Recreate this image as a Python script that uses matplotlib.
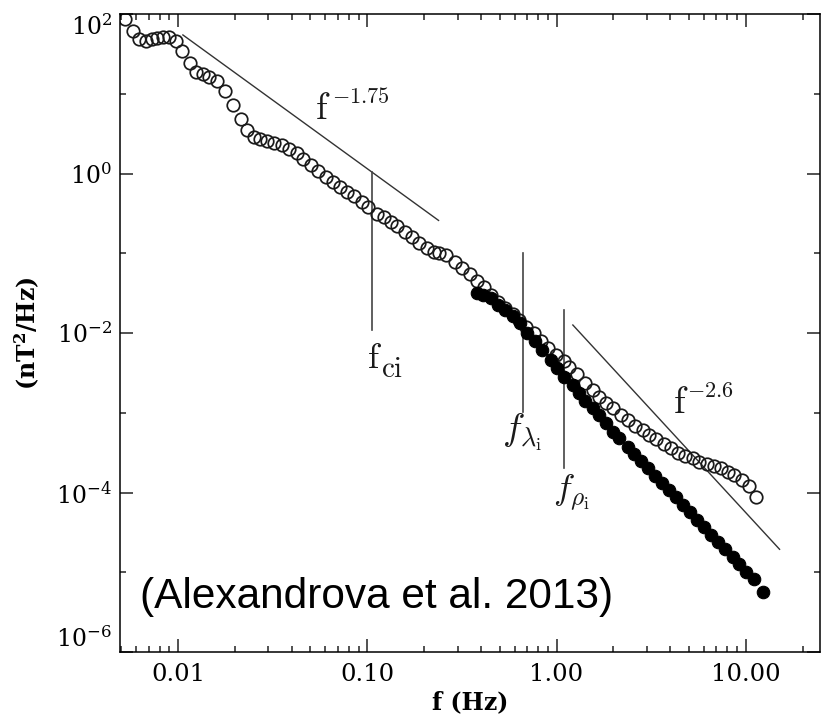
import matplotlib
matplotlib.use("Agg")
import matplotlib.pyplot as plt
from matplotlib.ticker import FixedLocator, FixedFormatter, LogLocator, NullFormatter

# Magnetic spectrum, open circles
open_freq = [
    0.00524, 0.00578, 0.00622, 0.00677, 0.00729, 0.00774, 0.00833, 0.00896, 0.00976, 0.0105,
    0.0116, 0.0125, 0.0136, 0.0146, 0.0161, 0.0177, 0.0195, 0.0215, 0.0232, 0.0252,
    0.0272, 0.0296, 0.0322, 0.0355, 0.0387, 0.0426, 0.0459, 0.0505, 0.0551, 0.0607,
    0.0661, 0.0720, 0.0784, 0.0854, 0.0941, 0.101, 0.112, 0.122, 0.134, 0.144,
    0.159, 0.173, 0.188, 0.208, 0.224, 0.240, 0.262,
    0.289, 0.318, 0.347, 0.382, 0.416, 0.453, 0.493, 0.537, 0.592, 0.637,
    0.694, 0.756, 0.833, 0.907, 0.988, 1.09, 1.17, 1.29,
    1.42, 1.55, 1.67, 1.82, 2.00, 2.18, 2.38, 2.59, 2.85, 3.07,
    3.34, 3.68, 4.01, 4.37, 4.76, 5.24, 5.64, 6.22, 6.77, 7.37,
    8.03, 8.64, 9.52, 10.4, 11.3,
]
open_psd = [
    86.6, 61.3, 48.7, 46.0, 48.7, 50.1, 51.6, 51.6, 46.0, 34.5,
    24.4, 18.8, 17.8, 16.3, 14.5, 10.9, 7.29, 4.87, 3.55, 2.90,
    2.74, 2.58, 2.44, 2.30, 2.05, 1.83, 1.54, 1.26, 1.09, 0.917,
    0.772, 0.668, 0.579, 0.516, 0.434, 0.376, 0.307, 0.282, 0.244, 0.218,
    0.183, 0.158, 0.133, 0.115, 0.103, 0.100, 0.0944,
    0.0772, 0.0649, 0.0546, 0.0447, 0.0376, 0.0299, 0.0244, 0.0205, 0.0173, 0.0145,
    0.0119, 0.0100, 0.00794, 0.00649, 0.00531, 0.00447, 0.00376, 0.00307,
    0.00237, 0.00194, 0.00158, 0.00133, 0.00115, 0.000944, 0.000818, 0.000688, 0.000613, 0.000531,
    0.000473, 0.000410, 0.000365, 0.000316, 0.000290, 0.000274, 0.000244, 0.000230, 0.000218, 0.000205,
    0.000183, 0.000168, 0.000145, 0.000122, 0.0000866,
]

# Filled circles
fill_freq = [
    0.382, 0.411, 0.448, 0.493, 0.537, 0.592, 0.645, 0.702, 0.774, 0.843,
    0.930, 1.01, 1.10, 1.22, 1.31, 1.42, 1.55, 1.67, 1.82, 2.00,
    2.15, 2.38, 2.56, 2.78, 3.03, 3.30, 3.59, 3.91, 4.26, 4.64,
    5.05, 5.50, 6.00, 6.53, 7.11, 7.74, 8.54, 9.18, 10.0, 11.0,
    12.4,
]
fill_psd = [
    0.0316, 0.0299, 0.0274, 0.0224, 0.0194, 0.0163, 0.0133, 0.0100, 0.00794, 0.00613,
    0.00460, 0.00365, 0.00282, 0.00224, 0.00178, 0.00141, 0.00115, 0.000944, 0.000750, 0.000579,
    0.000487, 0.000376, 0.000307, 0.000251, 0.000205, 0.000163, 0.000133, 0.000106, 0.0000866, 0.0000688,
    0.0000562, 0.0000447, 0.0000365, 0.0000290, 0.0000237, 0.0000194, 0.0000154, 0.0000126, 0.0000100, 0.00000818,
    0.00000562,
]

# Power-law guides
inertial_freq = [0.0106, 0.238]
inertial_psd = [54.6, 0.258]
kinetic_freq = [1.22, 15.1]
kinetic_psd = [0.0126, 1.94e-5]

# Characteristic frequencies (vertical markers) and their extent
f_ci, f_ci_span = 0.106, [0.0109, 1.03]
f_lam, f_lam_span = 0.669, [0.00103, 0.100]
f_rho, f_rho_span = 1.09, [0.000205, 0.0194]

xticks = [0.01, 0.1, 1.0, 10.0]
xticklabels = ["0.01", "0.10", "1.00", "10.00"]
yticks = [1e-6, 1e-4, 1e-2, 1e0, 1e2]
yticklabels = [r"$\mathregular{10^{-6}}$", r"$\mathregular{10^{-4}}$",
               r"$\mathregular{10^{-2}}$", r"$\mathregular{10^{0}}$",
               r"$\mathregular{10^{2}}$"]
yminor = [1e-5, 1e-3, 1e-1, 1e1]

plt.rcParams.update({
    "font.family": "DejaVu Serif",
    "mathtext.fontset": "cm",
    "axes.linewidth": 1.1,
})

fig = plt.figure(figsize=(8.22, 7.22), dpi=100)
ax = fig.add_axes([120 / 822, 70 / 722, 700 / 822, 638 / 722])
ax.set_xscale("log")
ax.set_yscale("log")
ax.set_xlim(0.00493, 24.7)
ax.set_ylim(1e-6, 1e2)

ink = "#1a1a1a"
ax.plot(inertial_freq, inertial_psd, color="#333333", lw=1.0)
ax.plot(kinetic_freq, kinetic_psd, color="#333333", lw=1.0)
for fx, span in [(f_ci, f_ci_span), (f_lam, f_lam_span), (f_rho, f_rho_span)]:
    ax.plot([fx, fx], span, color="#444444", lw=1.2)

ax.plot(open_freq, open_psd, ls="none", marker="o", ms=9.0, mfc="none",
        mec=ink, mew=1.25)
ax.plot(fill_freq, fill_psd, ls="none", marker="o", ms=9.0, mfc="black",
        mec="black", mew=0.8)

# Labels: base letter and raised/lowered part drawn separately
def split_label(x, y, base, part, size, part_size, dx, dy):
    ax.text(x, y, base, fontsize=size, ha="left", va="baseline", color=ink)
    ax.annotate(part, xy=(x, y), xytext=(dx, dy), textcoords="offset points",
                fontsize=part_size, ha="left", va="baseline", color=ink)

split_label(0.0531, 4.87, r"$\mathrm{f}$", r"$-1.75$", 27, 16, 12, 11)
split_label(4.11, 1.0e-3, r"$\mathrm{f}$", r"$-2.6$", 27, 16, 10.5, 11)
split_label(0.100, 0.00365, r"$\mathrm{f}$", r"$\mathrm{ci}$", 26, 21, 10, -6.5)
ax.text(0.518, 4.47e-4, r"$f_{\lambda_\mathrm{i}}$", fontsize=27, ha="left",
        va="baseline", color=ink)
ax.text(0.953, 8.18e-5, r"$f_{\rho_\mathrm{i}}$", fontsize=26, ha="left",
        va="baseline", color=ink)

ax.text(0.029, 0.069, "(Alexandrova et al. 2013)", transform=ax.transAxes,
        fontsize=30.5, family="Liberation Sans", ha="left", va="baseline")

ax.xaxis.set_major_locator(FixedLocator(xticks))
ax.xaxis.set_major_formatter(FixedFormatter(xticklabels))
ax.xaxis.set_minor_locator(LogLocator(base=10, subs=range(2, 10), numticks=20))
ax.xaxis.set_minor_formatter(NullFormatter())
ax.yaxis.set_major_locator(FixedLocator(yticks))
ax.yaxis.set_major_formatter(FixedFormatter(yticklabels))
ax.yaxis.set_minor_locator(FixedLocator(yminor))
ax.yaxis.set_minor_formatter(NullFormatter())

ax.tick_params(which="both", direction="in", top=True, right=True, width=1.1,
               color="#222222")
ax.tick_params(which="major", length=9.5)
ax.tick_params(which="minor", length=4.5)
ax.tick_params(axis="x", which="major", pad=8, labelsize=17.5)
ax.tick_params(axis="y", which="major", pad=6, labelsize=17)

# keep the end labels inside the frame height
ylabels = ax.yaxis.get_majorticklabels()
ylabels[0].set_verticalalignment("bottom")
ylabels[-1].set_verticalalignment("top")

ax.set_xlabel("f (Hz)", fontsize=17, fontweight="bold", labelpad=3)
ax.set_ylabel(r"(nT$\mathregular{^2}$/Hz)", fontsize=17, fontweight="bold",
              labelpad=10)

fig.savefig("out.png", dpi=100)
